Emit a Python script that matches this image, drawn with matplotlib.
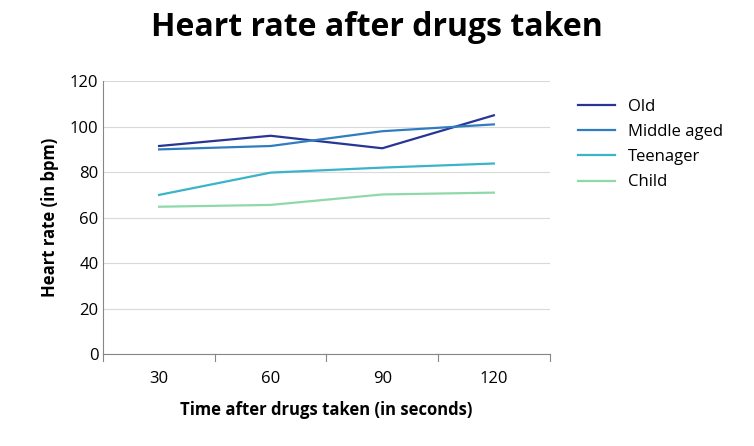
import matplotlib.pyplot as plt

times = ['30', '60', '90', '120']
old = [91.5, 96, 90.5, 105]
middle_aged = [90, 91.5, 98, 101]
teenager = [70, 79.8, 82, 83.8]
child = [64.8, 65.6, 70.2, 71]

plt.rcParams['font.family'] = ['Open Sans', 'DejaVu Sans']

fig = plt.figure(figsize=(7.54, 4.46), dpi=100)
ax = fig.add_axes([0.137, 0.206, 0.592, 0.612])

x = range(len(times))
ax.plot(x, old, color='#283593', lw=1.6, label='Old')
ax.plot(x, middle_aged, color='#2f7dbf', lw=1.6, label='Middle aged')
ax.plot(x, teenager, color='#3bb3c8', lw=1.6, label='Teenager')
ax.plot(x, child, color='#8fd9a8', lw=1.6, label='Child')

ax.set_xlim(-0.5, 3.5)
ax.set_ylim(0, 120)
ax.set_yticks(range(0, 121, 20))
ax.set_xticks(list(x))
ax.set_xticklabels(times)
ax.tick_params(labelsize=12, length=0)
ax.tick_params(axis='x', pad=12)
ax.grid(axis='y', color='#d9d9d9', lw=0.8)
ax.set_axisbelow(True)
for s in ['top', 'right']:
    ax.spines[s].set_visible(False)
ax.spines['left'].set_color('#868686')
ax.spines['bottom'].set_color('#868686')
# category separators on x axis
for b in [-0.5, 0.5, 1.5, 2.5, 3.5]:
    ax.plot([b, b], [0, -3], color='#868686', lw=0.8, clip_on=False)

ax.set_xlabel('Time after drugs taken (in seconds)', fontsize=12, fontweight='bold', labelpad=10)
ax.set_ylabel('Heart rate (in bpm)', fontsize=12, fontweight='bold', labelpad=8)
fig.suptitle('Heart rate after drugs taken', fontsize=23, fontweight='bold', y=0.975)

ax.legend(loc='upper left', bbox_to_anchor=(1.03, 0.99), frameon=False, fontsize=12,
          handlelength=2.2, labelspacing=0.55)

fig.savefig('out.png', dpi=100)
